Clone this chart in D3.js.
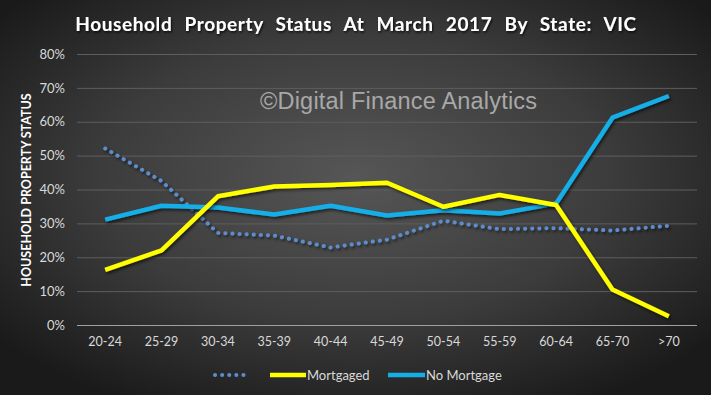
<!DOCTYPE html>
<html><head><meta charset="utf-8">
<script src="https://cdn.jsdelivr.net/npm/d3@7"></script>
<style>html,body{margin:0;padding:0;background:#2a2a2a;}svg{display:block;}</style>
</head><body>
<svg id="chart" width="711" height="395"></svg>
<script>
const categories = ["20-24","25-29","30-34","35-39","40-44","45-49","50-54","55-59","60-64","65-70",">70"];
const seriesNames = ["", "Mortgaged", "No Mortgage"];
const ownOutright = [52.1, 42.5, 27.2, 26.4, 22.9, 25.2, 30.8, 28.3, 28.6, 27.9, 29.3];
const mortgaged = [16.3, 22.0, 38.0, 40.9, 41.3, 42.0, 34.9, 38.4, 35.4, 10.5, 2.6];
const noMortgage = [31.1, 35.2, 34.7, 32.6, 35.2, 32.3, 33.9, 32.9, 35.9, 61.2, 67.6];
const yTicks = [0,10,20,30,40,50,60,70,80];

const svg = d3.select("#chart");
const W = 711, H = 395;
const defs = svg.append("defs");
const rg = defs.append("radialGradient").attr("id","bg").attr("cx","50%").attr("cy","45%").attr("r","65%");
rg.append("stop").attr("offset","0%").attr("stop-color","#565656");
rg.append("stop").attr("offset","55%").attr("stop-color","#3c3c3c");
rg.append("stop").attr("offset","100%").attr("stop-color","#1a1a1a");
const sh = defs.append("filter").attr("id","shadow").attr("x","-10%").attr("y","-10%").attr("width","130%").attr("height","130%");
sh.append("feDropShadow").attr("dx",1.5).attr("dy",2).attr("stdDeviation",1.5).attr("flood-color","#000").attr("flood-opacity",0.6);
const tsh = defs.append("filter").attr("id","tshadow");
tsh.append("feDropShadow").attr("dx",1).attr("dy",1.5).attr("stdDeviation",1).attr("flood-color","#000").attr("flood-opacity",0.8);

svg.append("rect").attr("width",W).attr("height",H).attr("fill","url(#bg)");

const m = {left:77, right:14, top:54, bottom:70};
const x = d3.scaleBand().domain(categories).range([m.left, W-m.right]);
const y = d3.scaleLinear().domain([0,80]).range([325, 54]);

// gridlines
svg.append("g").selectAll("line").data(yTicks.filter(d=>d>0)).join("line")
  .attr("x1", m.left).attr("x2", W-m.right)
  .attr("y1", d=>y(d)+0.5).attr("y2", d=>y(d)+0.5)
  .attr("stroke","#5e5e5e").attr("stroke-width",1);
svg.append("line").attr("x1",m.left).attr("x2",W-m.right).attr("y1",y(0)+0.5).attr("y2",y(0)+0.5)
  .attr("stroke","#a0a0a0").attr("stroke-width",1.2);

// y axis labels
const yAxis = d3.axisLeft(y).tickValues(yTicks).tickFormat(d=>d+"%").tickSize(0).tickPadding(0);
const ya = svg.append("g").attr("transform",`translate(65,0)`).call(yAxis);
ya.select(".domain").remove();
ya.selectAll("text").attr("fill","#d9d9d9").style("font-family","Lato, 'Open Sans', sans-serif").style("font-size","13px");

// x axis labels
const xAxis = d3.axisBottom(x).tickSize(0).tickPadding(0);
const xa = svg.append("g").attr("transform",`translate(0,337)`).call(xAxis);
xa.select(".domain").remove();
xa.selectAll("text").attr("fill","#d9d9d9").style("font-family","Lato, 'Open Sans', sans-serif").style("font-size","12.5px");

// title
svg.append("text").attr("x",356).attr("y",31).attr("text-anchor","middle")
  .attr("fill","#ffffff").attr("filter","url(#tshadow)")
  .style("font-family","Lato, 'Open Sans', sans-serif").style("font-weight","bold").style("font-size","19px")
  .style("letter-spacing","0.6px").style("word-spacing","7px")
  .text("Household Property Status At March 2017 By State: VIC");

// y title
svg.append("text").attr("transform","translate(31,190) rotate(-90)").attr("text-anchor","middle")
  .attr("fill","#ffffff")
  .style("font-family","Lato, 'Open Sans', sans-serif").style("font-weight","bold").style("font-size","12.5px")
  .text("HOUSEHOLD PROPERTY STATUS");

// watermark
svg.append("text").attr("x",260).attr("y",109).attr("fill","#a8a8a8")
  .style("font-family","'Liberation Sans', Arial, sans-serif").style("font-size","23.5px")
  .style("letter-spacing","0.2px")
  .text("©Digital Finance Analytics");

const line = d3.line().x((d,i)=>x(categories[i])+x.bandwidth()/2).y(d=>y(d));

svg.append("path").datum(ownOutright).attr("d",line).attr("fill","none")
  .attr("stroke","#5b8ccc").attr("stroke-width",4).attr("stroke-linecap","round")
  .attr("stroke-dasharray","0.1 7").attr("filter","url(#shadow)");
svg.append("path").datum(noMortgage).attr("d",line).attr("fill","none")
  .attr("stroke","#15aee6").attr("stroke-width",4.5).attr("stroke-linejoin","round").attr("filter","url(#shadow)");
svg.append("path").datum(mortgaged).attr("d",line).attr("fill","none")
  .attr("stroke","#ffff00").attr("stroke-width",4.5).attr("stroke-linejoin","round").attr("filter","url(#shadow)");

// legend
const lg = svg.append("g");
const ly = 375;
lg.append("line").attr("x1",215).attr("x2",248).attr("y1",ly).attr("y2",ly)
  .attr("stroke","#5b8ccc").attr("stroke-width",4).attr("stroke-linecap","round").attr("stroke-dasharray","0.1 7");
lg.append("line").attr("x1",270).attr("x2",306).attr("y1",ly).attr("y2",ly)
  .attr("stroke","#ffff00").attr("stroke-width",4.5);
lg.append("text").attr("x",307).attr("y",ly+4.5).attr("fill","#d9d9d9")
  .style("font-family","Lato, 'Open Sans', sans-serif").style("font-size","13px").text(seriesNames[1]);
lg.append("line").attr("x1",388).attr("x2",425).attr("y1",ly).attr("y2",ly)
  .attr("stroke","#15aee6").attr("stroke-width",4.5);
lg.append("text").attr("x",426).attr("y",ly+4.5).attr("fill","#d9d9d9")
  .style("font-family","Lato, 'Open Sans', sans-serif").style("font-size","13px").text(seriesNames[2]);
</script>
</body></html>
